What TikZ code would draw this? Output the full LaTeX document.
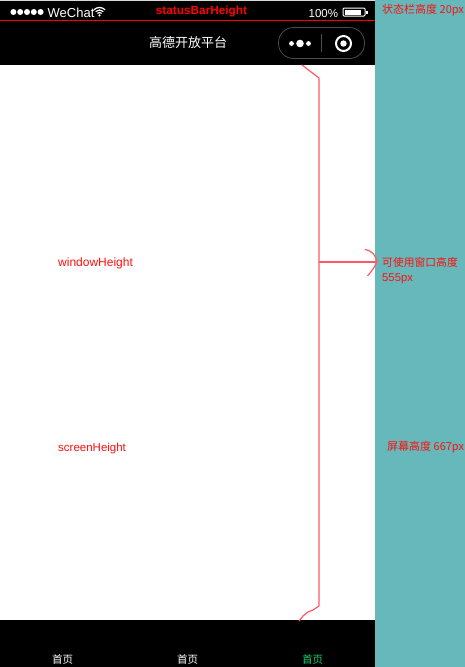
\documentclass[tikz,border=0pt]{standalone}
\usepackage{fontspec}
\setmainfont{Liberation Sans}
\newfontfamily\cjk{Noto Sans CJK SC}
\definecolor{teal1}{HTML}{66B8BA}
\definecolor{inkred}{HTML}{FF0F0F}
\definecolor{penred}{HTML}{FF5A64}
\definecolor{tabgreen}{HTML}{1FD16F}
\tikzset{
  lab/.style={inner sep=0pt,text=inkred,font=\fontsize{12}{14}\selectfont},
  cjklab/.style={inner sep=0pt,text=inkred,font=\cjk\fontsize{11}{15}\selectfont},
  pen/.style={draw=penred,line width=1.2pt},
  tab/.style={inner sep=0pt,text=white,font=\cjk\fontsize{10.5}{12}\selectfont},
  wht/.style={inner sep=0pt,text=white},
  capsule/.style={draw=white!30!black,line width=0.8pt,rounded corners=15pt}
}
\begin{document}
\begin{tikzpicture}[x=1pt,y=-1pt]
\useasboundingbox (0,0) rectangle (465,667);
\fill[white] (0,0) rectangle (465,667);
\fill[teal1] (375,0) rectangle (465,667);
\fill[black!15] (0,0) rectangle (375,1);
\fill[black] (0,1) rectangle (375,65);
\fill[black] (0,620) rectangle (375,667);
\draw[red,line width=1pt] (0,20.5) -- (375,20.5);
% status bar
\foreach \cx in {13.4,20.2,27,33.8,40.6} \fill[white] (\cx,12) circle (3);
\node[wht,anchor=west,font=\fontsize{13}{15}\selectfont] (carrier) at (47.5,13) {WeChat};
\foreach \rr in {3,5.5,8} \draw[white,line width=1.2pt] (99.5-0.7071*\rr,15.5-0.7071*\rr) arc[start angle=-135,end angle=-45,radius=\rr];
\fill[white] (99.5,15.4) circle (1.2);
\node[inner sep=0pt,text=red,font=\bfseries\fontsize{11.8}{13}\selectfont] (status) at (201.5,11) {statusBarHeight};
\node[wht,anchor=west,font=\fontsize{11.5}{14}\selectfont] (pct) at (308.5,13.5) {100\%};
\draw[white,line width=1pt,rounded corners=1pt] (343,8) rectangle (365,16);
\fill[white] (344.5,9.5) rectangle (361,14.5);
\fill[white] (366,10.5) rectangle (367.5,13.5);
% nav bar
\node[wht,font=\cjk\fontsize{13}{15}\selectfont] (title) at (188,43) {高德开放平台};
\draw[capsule] (278.5,27.5) rectangle (364.5,58.5);
\fill[white] (291.5,43.5) circle (2.4);
\fill[white] (300,43.5) circle (3.8);
\fill[white] (308.5,43.5) circle (2.4);
\draw[white!30!black,line width=0.8pt] (321.5,34) -- (321.5,52);
\draw[white,line width=2pt] (343.5,43.5) circle (7.5);
\fill[white] (343.5,43.5) circle (3.2);
% bracket
\coordinate (bt) at (302,65);
\coordinate (bb) at (299,621);
\coordinate (bm) at (319,262);
\coordinate (tip) at (377,262);
\draw[pen,line join=round] (bt) -- (319,78) -- (319,606) -- (313,610) -- (308,612) -- (303,616) -- (bb);
\draw[pen] (bm) -- (tip);
\draw[pen] (365,249.5) .. controls (373,251) and (376,256) .. (tip) .. controls (374,268) and (371,272) .. (367.5,276);
% labels
\node[lab,anchor=west] (win) at (58,263.5) {windowHeight};
\node[lab,anchor=west,font=\fontsize{11.5}{14}\selectfont] (scr) at (58,448.5) {screenHeight};
\node[cjklab,anchor=west] (l1) at (382,10.5) {状态栏高度 20px};
\node[cjklab,anchor=west,font=\cjk\fontsize{10.8}{13}\selectfont] (l2) at (382,262.5) {可使用窗口高度};
\node[lab,anchor=west,font=\fontsize{11.3}{13}\selectfont] (l3) at (382,279) {555px};
\node[cjklab,anchor=west] (l4) at (387,447.5) {屏幕高度 667px};
% tabs
\node[tab] (t1) at (62.5,659.5) {首页};
\node[tab] (t2) at (187.5,659.5) {首页};
\node[tab,text=tabgreen] (t3) at (312.5,659.5) {首页};
\end{tikzpicture}
\end{document}
